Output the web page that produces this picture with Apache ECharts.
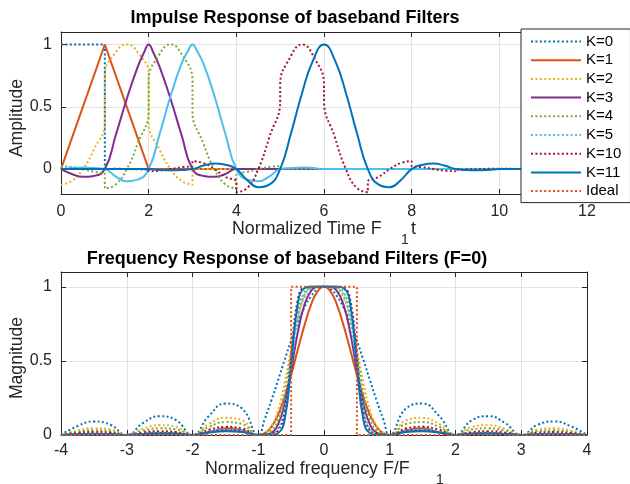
<!DOCTYPE html>
<html>
<head>
<meta charset="utf-8">
<script src="https://cdn.jsdelivr.net/npm/echarts@6/dist/echarts.min.js"></script>
<style>
html,body{margin:0;padding:0;background:#fff;}
#chart{width:630px;height:484px;}
</style>
</head>
<body>
<div id="chart"></div>
<script>
// ---- impulse responses h(t), t in units of 1/F1 ----
const impK0 = [[0,1],[1,1],[1,0],[12,0]];
const impK1 = [[0,0],[1,1],[2,0],[12,0]];
const impK2 = [[0,-0.125],[0.25,-0.094],[0.5,0],[0.75,0.156],[1,0.375],[1,0.75],[1.25,0.9375],[1.5,1],
  [1.75,0.9375],[2,0.75],[2,0.375],[2.25,0.156],[2.5,0],[2.75,-0.094],[3,-0.125],[3,0],[12,0]];
const impK3 = [[0,0],[0.25,-0.039],[0.5,-0.0625],[0.75,-0.055],[1,0],[1.25,0.273],[1.5,0.5625],[1.75,0.82],
  [1.9,0.94],[2,1],[2.1,0.94],[2.25,0.82],[2.5,0.5625],[2.75,0.273],[3,0],[3.25,-0.055],[3.5,-0.0625],
  [3.75,-0.039],[4,0],[12,0]];
const impK4 = [[0,0.023],[0.25,0.017],[0.5,0],[0.75,-0.022],[1,-0.039],[1,-0.156],[1.25,-0.123],[1.5,0],
  [1.75,0.205],[2,0.469],[2,0.703],[2.25,0.923],[2.5,1],[2.75,0.923],[3,0.703],[3,0.469],[3.25,0.205],
  [3.5,0],[3.75,-0.123],[4,-0.156],[4,-0.039],[4.25,-0.022],[4.5,0],[4.75,0.017],[5,0.023],[5,0],[12,0]];
const impK5 = [[0,0],[0.25,0.008],[0.5,0.012],[0.75,0.009],[1,0],[1.25,-0.06],[1.5,-0.098],[1.75,-0.085],
  [2,0],[2.25,0.282],[2.5,0.586],[2.75,0.846],[2.9,0.95],[3,1],[3.1,0.95],[3.25,0.846],[3.5,0.586],
  [3.75,0.282],[4,0],[4.25,-0.085],[4.5,-0.098],[4.75,-0.06],[5,0],[5.25,0.009],[5.5,0.012],[5.75,0.008],
  [6,0],[12,0]];
const impK10 = [[0,0],[0.5,0],[1,0],[1,0.003],[1.25,0.002],[1.5,0],[1.75,-0.002],[2,-0.004],[2,-0.017],
  [2.25,-0.0125],[2.5,0],[2.75,0.015],[3,0.024],[3,0.0635],[3.25,0.048],[3.5,0],[3.75,-0.062],[4,-0.106],
  [4,-0.185],[4.25,-0.152],[4.5,0],[4.75,0.253],[5,0.555],[5,0.666],[5.25,0.911],[5.5,1],[5.75,0.911],
  [6,0.666],[6,0.555],[6.25,0.253],[6.5,0],[6.75,-0.152],[7,-0.185],[7,-0.106],[7.25,-0.062],[7.5,0],
  [7.75,0.048],[8,0.0635],[8,0.024],[8.25,0.015],[8.5,0],[8.75,-0.0125],[9,-0.017],[9,-0.004],
  [9.25,-0.002],[9.5,0],[9.75,0.002],[10,0.003],[10,0],[11,0],[12,0]];
const impK11 = [[0,0],[1,0],[1.25,0.001],[1.5,0.0016],[1.75,0.0012],[2,0],[2.25,-0.007],[2.5,-0.010],
  [2.75,-0.008],[3,0],[3.25,0.028],[3.5,0.044],[3.75,0.035],[4,0],[4.25,-0.089],[4.5,-0.145],[4.75,-0.125],
  [5,0],[5.25,0.291],[5.5,0.611],[5.75,0.873],[6,1],[6.25,0.873],[6.5,0.611],[6.75,0.291],[7,0],
  [7.25,-0.125],[7.5,-0.145],[7.75,-0.089],[8,0],[8.25,0.035],[8.5,0.044],[8.75,0.028],[9,0],
  [9.25,-0.008],[9.5,-0.010],[9.75,-0.007],[10,0],[10.25,0.0012],[10.5,0.0016],[10.75,0.001],[11,0],[12,0]];

// ---- magnitude responses |H(F)|, F in units of F1 ----
const freqAxis = [-4,-3.75,-3.5,-3.25,-3,-2.75,-2.5,-2.25,-2,-1.75,-1.5,-1.25,-1,
  -0.9,-0.8,-0.7,-0.6,-0.5,-0.4,-0.3,-0.2,-0.1,0,0.1,0.2,0.3,0.4,0.5,0.6,0.7,0.8,0.9,
  1,1.25,1.5,1.75,2,2.25,2.5,2.75,3,3.25,3.5,3.75,4];
const magK0 = [0,.060,.091,.069,0,.082,.127,.100,0,.129,.212,.180,0,
  .109,.234,.368,.505,.637,.757,.858,.935,.984,1,.984,.935,.858,.757,.637,.505,.368,.234,.109,
  0,.180,.212,.129,0,.100,.127,.082,0,.069,.091,.060,0];
const magK1 = [0,.004,.008,.005,0,.007,.016,.010,0,.017,.045,.032,0,
  .012,.055,.135,.255,.405,.573,.736,.875,.968,1,.968,.875,.736,.573,.405,.255,.135,.055,.012,
  0,.032,.045,.017,0,.010,.016,.007,0,.005,.008,.004,0];
const magK2 = [0,.030,.046,.038,0,.043,.066,.055,0,.075,.116,.100,0,
  .015,.060,.165,.350,.577,.790,.925,.975,.996,1,.996,.975,.925,.790,.577,.350,.165,.060,.015,
  0,.100,.116,.075,0,.055,.066,.043,0,.038,.046,.030,0];
const magK3 = [0,.004,.006,.004,0,.007,.011,.009,0,.020,.032,.025,0,
  .003,.015,.070,.210,.434,.690,.875,.970,.998,1,.998,.970,.875,.690,.434,.210,.070,.015,.003,
  0,.025,.032,.020,0,.009,.011,.007,0,.004,.006,.004,0];
const magK4 = [0,.021,.032,.026,0,.030,.045,.038,0,.055,.087,.075,0,
  .006,.030,.100,.280,.560,.830,.960,.993,1,1,1,.993,.960,.830,.560,.280,.100,.030,.006,
  0,.075,.087,.055,0,.038,.045,.030,0,.026,.032,.021,0];
const magK5 = [0,.004,.007,.005,0,.008,.013,.010,0,.022,.035,.028,0,
  .002,.008,.045,.180,.460,.770,.940,.990,1,1,1,.990,.940,.770,.460,.180,.045,.008,.002,
  0,.028,.035,.022,0,.010,.013,.008,0,.005,.007,.004,0];
const magK10 = [0,.013,.020,.016,0,.017,.026,.020,0,.035,.055,.045,0,
  .004,.012,.030,.150,.530,.910,.995,1,1,1,1,1,.995,.910,.530,.150,.030,.012,.004,
  0,.045,.055,.035,0,.020,.026,.017,0,.016,.020,.013,0];
const magK11 = [0,.003,.004,.003,0,.006,.009,.007,0,.016,.025,.020,0,
  .001,.002,.012,.100,.470,.880,.990,1,1,1,1,1,.990,.880,.470,.100,.012,.002,.001,
  0,.020,.025,.016,0,.007,.009,.006,0,.003,.004,.003,0];
const idealResp = [[-4,0],[-0.5,0],[-0.5,1],[0.5,1],[0.5,0],[4,0]];

const seriesNames = ['K=0','K=1','K=2','K=3','K=4','K=5','K=10','K=11','Ideal'];
const yTicks = [0, 0.5, 1];

const C = {
  blue:'#0072BD', orange:'#D95319', yellow:'#EDB120', purple:'#7E2F8E',
  green:'#77AC30', cyan:'#4DBEEE', red:'#A2142F'
};
const DOT = [2, 2.4];
const FONT = 'Liberation Sans, Arial, Helvetica, sans-serif';
const INK = '#262626';

function pairs(mag) { return freqAxis.map((f, i) => [f, mag[i]]); }

function line(name, data, color, dotted, grid, smooth) {
  return {
    name, type: 'line', data,
    xAxisIndex: grid * 2, yAxisIndex: grid * 2,
    symbol: 'none', smooth: smooth ? 0.5 : false,
    lineStyle: { color, width: 2, type: dotted ? DOT : 'solid', cap: 'butt' },
    itemStyle: { color },
    emphasis: { disabled: true }, silent: true
  };
}

function xAxes(grid, min, max, interval) {
  const base = {
    gridIndex: grid, type: 'value', min, max, interval,
    axisLine: { show: true, onZero: false, lineStyle: { color: INK, width: 1 } },
    axisTick: { show: true, inside: true, length: 5, lineStyle: { color: INK } }
  };
  return [
    Object.assign({}, base, {
      position: 'bottom',
      axisLabel: { show: true, fontSize: 16, color: INK, fontFamily: FONT, margin: grid ? 8 : 10 },
      splitLine: { show: true, lineStyle: { color: '#e3e3e3', width: 1 } }
    }),
    Object.assign({}, base, { position: 'top', axisLabel: { show: false }, splitLine: { show: false } })
  ];
}

function yAxes(grid, min, max) {
  const base = {
    gridIndex: grid, type: 'value', min, max,
    axisLine: { show: true, onZero: false, lineStyle: { color: INK, width: 1 } },
    axisTick: { show: true, inside: true, length: 5, lineStyle: { color: INK }, customValues: yTicks }
  };
  return [
    Object.assign({}, base, {
      position: 'left',
      axisLabel: { show: true, fontSize: 16, color: INK, fontFamily: FONT, margin: 9, customValues: yTicks },
      splitLine: { show: true, lineStyle: { color: '#e3e3e3', width: 1 } }
    }),
    Object.assign({}, base, { position: 'right', axisLabel: { show: false }, splitLine: { show: false } })
  ];
}

// frequency panel series come first so the legend takes their line styles
const series = [
  line('K=0', pairs(magK0), C.blue, true, 1, true),
  line('K=1', pairs(magK1), C.orange, false, 1, true),
  line('K=2', pairs(magK2), C.yellow, true, 1, true),
  line('K=3', pairs(magK3), C.purple, false, 1, true),
  line('K=4', pairs(magK4), C.green, true, 1, true),
  line('K=5', pairs(magK5), C.cyan, true, 1, true),
  line('K=10', pairs(magK10), C.red, true, 1, true),
  line('K=11', pairs(magK11), C.blue, false, 1, true),
  line('Ideal', idealResp, C.orange, true, 1, false),

  line('K=0', impK0, C.blue, true, 0, false),
  line('K=1', impK1, C.orange, false, 0, false),
  line('K=2', impK2, C.yellow, true, 0, true),
  line('K=3', impK3, C.purple, false, 0, true),
  line('K=4', impK4, C.green, true, 0, true),
  line('K=5', impK5, C.cyan, false, 0, true),
  line('K=10', impK10, C.red, true, 0, true),
  line('K=11', impK11, C.blue, false, 0, true)
];

const chart = echarts.init(document.getElementById('chart'), null, { renderer: 'canvas' });
chart.setOption({
  animation: false,
  backgroundColor: '#fff',
  textStyle: { fontFamily: FONT },
  grid: [
    { left: 61, top: 32, width: 526, height: 162, show: true, borderColor: INK, borderWidth: 0, backgroundColor: '#fff' },
    { left: 61, top: 272, width: 526, height: 163, show: true, borderColor: INK, borderWidth: 0, backgroundColor: '#fff' }
  ],
  xAxis: [].concat(xAxes(0, 0, 12, 2), xAxes(1, -4, 4, 1)),
  yAxis: [].concat(yAxes(0, -0.2, 1.1), yAxes(1, 0, 1.1)),
  legend: {
    data: seriesNames,
    orient: 'vertical',
    left: 521, top: 29,
    itemWidth: 50, itemHeight: 14, itemGap: 3.7,
    padding: [5, 9, 4, 9],
    backgroundColor: '#fff',
    borderColor: INK, borderWidth: 1, borderRadius: 0,
    itemStyle: { opacity: 0, borderWidth: 0 },
    textStyle: { fontSize: 15, color: '#000', fontFamily: FONT, lineHeight: 14 },
    selectedMode: false,
    z: 10
  },
  graphic: [
    { type: 'text', x: 295, y: 17.8, style: { text: 'Impulse Response of baseband Filters', font: 'bold 18px ' + FONT, fill: '#000', align: 'center', verticalAlign: 'middle' } },
    { type: 'text', x: 287, y: 259.5, style: { text: 'Frequency Response of baseband Filters (F=0)', font: 'bold 18px ' + FONT, fill: '#000', align: 'center', verticalAlign: 'middle' } },
    { type: 'text', x: 17.5, y: 118, rotation: Math.PI / 2, style: { text: 'Amplitude', font: '17.6px ' + FONT, fill: INK, align: 'center', verticalAlign: 'middle' } },
    { type: 'text', x: 17.5, y: 358, rotation: Math.PI / 2, style: { text: 'Magnitude', font: '17.6px ' + FONT, fill: INK, align: 'center', verticalAlign: 'middle' } },
    { type: 'text', x: 232, y: 229, style: { text: 'Normalized Time F', font: '17.8px ' + FONT, fill: INK, align: 'left', verticalAlign: 'middle' } },
    { type: 'text', x: 405, y: 240, style: { text: '1', font: '14px ' + FONT, fill: INK, align: 'center', verticalAlign: 'middle' } },
    { type: 'text', x: 411, y: 229, style: { text: 't', font: '17.8px ' + FONT, fill: INK, align: 'left', verticalAlign: 'middle' } },
    { type: 'text', x: 205, y: 469, style: { text: 'Normalized frequency F/F', font: '17.8px ' + FONT, fill: INK, align: 'left', verticalAlign: 'middle' } },
    { type: 'text', x: 440, y: 480, style: { text: '1', font: '14px ' + FONT, fill: INK, align: 'center', verticalAlign: 'middle' } }
  ],
  series
});
</script>
</body>
</html>
